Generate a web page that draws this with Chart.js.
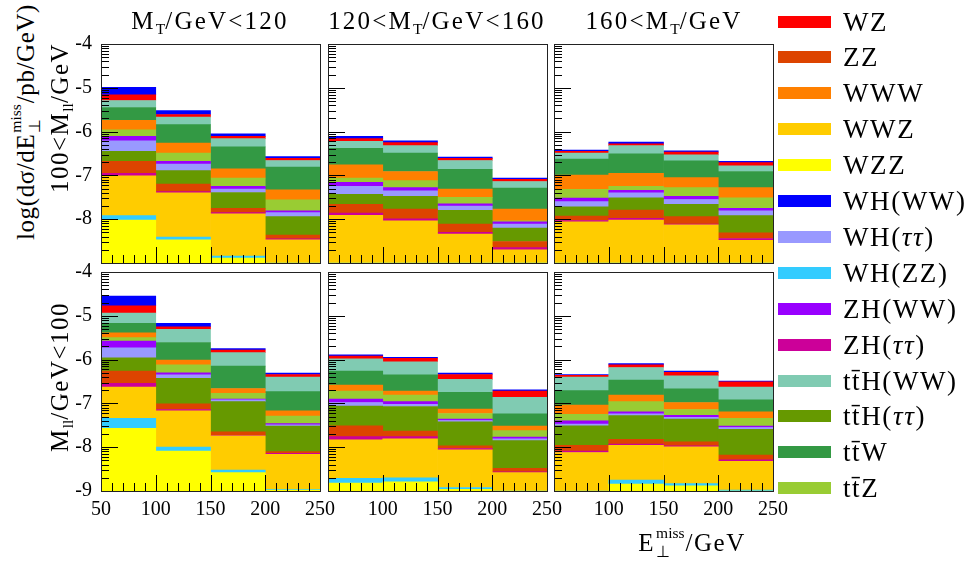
<!DOCTYPE html>
<html>
<head>
<meta charset="utf-8">
<script src="https://cdn.jsdelivr.net/npm/chart.js@4.4.1/dist/chart.umd.min.js"></script>
<style>
  body { margin: 0; background: #fff; font-family: "Liberation Serif", serif; }
  #page { position: relative; width: 975px; height: 563px; overflow: hidden; background: #fff; }
  canvas.panel { position: absolute; }
  .txt { position: absolute; white-space: nowrap; color: #000; line-height: 1; }
  .center { transform: translate(-50%, -50%); }
  .rot { transform: translate(-50%, -50%) rotate(-90deg); }
  .big { font-size: 25px; letter-spacing: 1.5px; }
  .title { font-size: 25px; letter-spacing: 2.2px; }
  .ytitle { font-size: 25px; letter-spacing: 0.6px; }
  sub.s { font-size: 0.62em; vertical-align: -0.3em; letter-spacing: 0; }
  .ss { display: inline-flex; flex-direction: column; vertical-align: 13px; font-size: 0.62em; line-height: 1.25; letter-spacing: 0; margin-left: 1px; margin-right: 1px; }
  .leg-sw { position: absolute; left: 778px; width: 53px; height: 12px; }
  .leg-tx { position: absolute; left: 843px; font-size: 27px; letter-spacing: 1.6px; line-height: 1; white-space: nowrap; transform: translateY(-50%); }
</style>
</head>
<body>
<div id="page"></div>
<script>
// bin edges / centres of the missing-ET histograms (GeV)
const binCenters = [75, 125, 175, 225];
const xTicks = [50, 100, 150, 200, 250];
const yMin = -9, yMax = -4;

// panel titles and row labels
const colTitles = ['M<sub class="s">T</sub>/GeV&lt;120', '120&lt;M<sub class="s">T</sub>/GeV&lt;160', '160&lt;M<sub class="s">T</sub>/GeV'];
const rowTitles = ['100&lt;M<sub class="s">ll</sub>/GeV', 'M<sub class="s">ll</sub>/GeV&lt;100'];

// log10 of the cumulative stack height at the top of each process
// panels: [top-left, top-mid, top-right, bottom-left, bottom-mid, bottom-right], 4 bins each
const wzz = [
  [-8.02, -8.47, -8.89, -9], [-9, -9, -9, -9], [-9, -9, -9, -9],
  [-7.57, -8.09, -8.58, -8.98], [-8.82, -8.79, -8.96, -9], [-9, -8.84, -8.88, -9]
];
const whZZ = [
  [-7.92, -8.41, -8.84, -9], [-9, -9, -9, -9], [-9, -9, -9, -9],
  [-7.34, -8.00, -8.52, -8.96], [-8.71, -8.70, -8.92, -9], [-9, -8.75, -8.83, -8.98]
];
const wwz = [
  [-7.01, -7.40, -7.88, -8.47], [-7.91, -8.04, -8.34, -8.70], [-8.06, -8.02, -8.13, -8.48],
  [-6.63, -7.17, -7.74, -8.16], [-7.83, -7.81, -8.06, -8.58], [-8.12, -7.96, -7.99, -8.32]
];
const zhTauTau = [
  [-6.95, -7.37, -7.85, -8.45], [-7.86, -7.99, -8.30, -8.65], [-8.03, -7.98, -8.11, -8.44],
  [-6.54, -7.14, -7.73, -8.14], [-7.76, -7.76, -8.03, -8.56], [-8.09, -7.93, -7.97, -8.29]
];
const zz = [
  [-6.68, -7.20, -7.75, -8.36], [-7.66, -7.77, -8.11, -8.51], [-7.93, -7.79, -7.94, -8.31],
  [-6.26, -7.01, -7.65, -8.10], [-7.51, -7.63, -7.97, -8.48], [-7.96, -7.82, -7.88, -8.18]
];
const tthTauTau = [
  [-6.45, -6.89, -7.39, -7.94], [-7.43, -7.48, -7.80, -8.20], [-7.72, -7.51, -7.66, -7.92],
  [-5.96, -6.43, -6.96, -7.52], [-7.06, -7.07, -7.42, -7.85], [-7.51, -7.28, -7.36, -7.59]
];
const whTauTau = [
  [-6.21, -6.74, -7.31, -7.85], [-7.25, -7.35, -7.70, -8.11], [-7.60, -7.40, -7.55, -7.81],
  [-5.73, -6.35, -6.92, -7.49], [-6.98, -7.02, -7.39, -7.81], [-7.47, -7.24, -7.32, -7.55]
];
const zhWW = [
  [-6.11, -6.68, -7.25, -7.81], [-7.16, -7.28, -7.65, -8.06], [-7.52, -7.34, -7.48, -7.75],
  [-5.58, -6.30, -6.90, -7.46], [-6.90, -6.96, -7.36, -7.77], [-7.40, -7.19, -7.27, -7.52]
];
const ttz = [
  [-5.96, -6.49, -7.06, -7.56], [-7.06, -7.12, -7.50, -8.04], [-7.32, -7.25, -7.28, -7.51],
  [-5.50, -6.12, -6.77, -7.29], [-6.72, -6.81, -7.23, -7.62], [-7.25, -6.96, -7.14, -7.34]
];
const www = [
  [-5.74, -6.26, -6.85, -7.33], [-6.76, -6.91, -7.31, -7.77], [-6.99, -6.95, -7.05, -7.28],
  [-5.39, -6.01, -6.66, -7.17], [-6.58, -6.72, -7.13, -7.52], [-7.04, -6.81, -6.98, -7.19]
];
const ttw = [
  [-5.45, -5.84, -6.35, -6.81], [-6.38, -6.49, -6.86, -7.29], [-6.63, -6.51, -6.67, -6.91],
  [-5.17, -5.61, -6.15, -6.73], [-6.26, -6.35, -6.75, -7.24], [-6.71, -6.47, -6.67, -6.92]
];
const tthWW = [
  [-5.29, -5.67, -6.16, -6.66], [-6.22, -6.32, -6.66, -7.14], [-6.49, -6.32, -6.53, -6.78],
  [-4.94, -5.31, -5.84, -6.40], [-5.98, -6.05, -6.45, -6.86], [-6.40, -6.18, -6.37, -6.63]
];
const wz = [
  [-5.16, -5.61, -6.11, -6.61], [-6.16, -6.25, -6.61, -7.09], [-6.45, -6.28, -6.47, -6.71],
  [-4.77, -5.25, -5.78, -6.34], [-5.92, -5.97, -6.34, -6.72], [-6.36, -6.12, -6.29, -6.51]
];
const whWW = [
  [-4.99, -5.52, -6.05, -6.57], [-6.11, -6.21, -6.58, -7.06], [-6.42, -6.24, -6.44, -6.68],
  [-4.55, -5.17, -5.75, -6.31], [-5.89, -5.95, -6.31, -6.69], [-6.34, -6.09, -6.26, -6.49]
];

// stacking order, bottom to top
const stackOrder = [
  ['WZZ', wzz], ['WH(ZZ)', whZZ], ['WWZ', wwz], ['ZH(ττ)', zhTauTau], ['ZZ', zz],
  ['ttH(ττ)', tthTauTau], ['WH(ττ)', whTauTau], ['ZH(WW)', zhWW], ['ttZ', ttz],
  ['WWW', www], ['ttW', ttw], ['ttH(WW)', tthWW], ['WZ', wz], ['WH(WW)', whWW]
];

// legend order, top to bottom
const legendOrder = ['WZ', 'ZZ', 'WWW', 'WWZ', 'WZZ', 'WH(WW)', 'WH(ττ)', 'WH(ZZ)', 'ZH(WW)', 'ZH(ττ)', 'ttH(WW)', 'ttH(ττ)', 'ttW', 'ttZ'];

const colors = {
  'WZ': '#ff0000', 'ZZ': '#dd4400', 'WWW': '#ff8000', 'WWZ': '#ffcc00', 'WZZ': '#ffff00',
  'WH(WW)': '#0000ff', 'WH(ττ)': '#9999ff', 'WH(ZZ)': '#33ccff', 'ZH(WW)': '#9900ff',
  'ZH(ττ)': '#cc0099', 'ttH(WW)': '#80cbb2', 'ttH(ττ)': '#669900', 'ttW': '#339944', 'ttZ': '#99cc33'
};

function prettyName(name) {
  return name.replace(/^tt/, 'tt&#772;').replace('ττ', '<i>ττ</i>');
}

const page = document.getElementById('page');

function addText(html, x, y, cls) {
  const d = document.createElement('div');
  d.className = 'txt ' + cls;
  d.style.left = x + 'px';
  d.style.top = y + 'px';
  d.innerHTML = html;
  page.appendChild(d);
}

// ROOT-like frame with inner ticks
const rootFrame = {
  id: 'rootFrame',
  afterDatasetsDraw(chart) {
    const { ctx, chartArea: a, scales: { x, y } } = chart;
    ctx.save();
    ctx.strokeStyle = '#000';
    ctx.lineWidth = 1;
    ctx.beginPath();
    for (let v = 50; v <= 250; v += 10) {
      const px = Math.round(x.getPixelForValue(v)) + 0.5;
      const len = v % 50 === 0 ? 16 : 8;
      ctx.moveTo(px, a.bottom);
      ctx.lineTo(px, a.bottom - len);
    }
    for (let d = yMin; d < yMax; d++) {
      for (let k = 1; k <= 9; k++) {
        const py = Math.round(y.getPixelForValue(d + Math.log10(k))) + 0.5;
        const len = k === 1 ? 17 : 8;
        ctx.moveTo(a.left, py);
        ctx.lineTo(a.left + len, py);
      }
    }
    ctx.stroke();
    ctx.strokeStyle = '#222';
    ctx.strokeRect(Math.round(a.left) + 0.5, Math.round(a.top) + 0.5, Math.round(a.right - a.left), Math.round(a.bottom - a.top));
    ctx.restore();
  }
};

const frameLefts = [101, 328, 554];
const frameTops = [44, 272];
const frameW = 219, frameH = 219;
const padL = 45, padT = 12, padR = 22, padB = 36;

for (let row = 0; row < 2; row++) {
  for (let col = 0; col < 3; col++) {
    const p = row * 3 + col;
    const cv = document.createElement('canvas');
    cv.className = 'panel';
    cv.width = frameW + padL + padR;
    cv.height = frameH + padT + padB;
    cv.style.left = (frameLefts[col] - padL) + 'px';
    cv.style.top = (frameTops[row] - padT) + 'px';
    cv.style.width = cv.width + 'px';
    cv.style.height = cv.height + 'px';
    page.appendChild(cv);

    const datasets = stackOrder.map(([name, arr], k) => ({
      label: name,
      data: binCenters.map((c, i) => ({ x: c, y: [k === 0 ? yMin : stackOrder[k - 1][1][p][i], arr[p][i]] })),
      backgroundColor: colors[name],
      borderWidth: 0,
      grouped: false,
      barPercentage: 1,
      categoryPercentage: 1
    }));

    new Chart(cv, {
      type: 'bar',
      data: { datasets },
      options: {
        responsive: false,
        animation: false,
        layout: { padding: { left: 0, top: padT, right: padR, bottom: 0 } },
        plugins: { legend: { display: false }, tooltip: { enabled: false } },
        scales: {
          x: {
            type: 'linear', min: 50, max: 250, offset: false,
            grid: { display: false, drawTicks: false, offset: false },
            border: { display: false },
            afterBuildTicks: (s) => { s.ticks = xTicks.map(v => ({ value: v })); },
            afterFit: (s) => { s.height = padB; s.paddingLeft = 0; s.paddingRight = 0; },
            ticks: {
              padding: 7, maxRotation: 0, autoSkip: false,
              color: '#000', font: { family: 'Liberation Serif', size: 20 },
              callback: (v) => (row === 1 && !(col > 0 && v === 50)) ? String(v) : ''
            }
          },
          y: {
            min: yMin, max: yMax,
            grid: { display: false, drawTicks: false },
            border: { display: false },
            ticks: {
              stepSize: 1, padding: 9,
              color: '#000', font: { family: 'Liberation Serif', size: 20 },
              callback: (v) => (col === 0 && !(row === 0 && v === yMin)) ? String(v) : ''
            },
            afterFit: (s) => { s.width = padL; s.paddingTop = 0; s.paddingBottom = 0; }
          }
        }
      },
      plugins: [rootFrame]
    });
  }
}

// titles
const colCenters = [210, 437, 664];
colTitles.forEach((t, i) => addText(t, colCenters[i], 22, 'center title'));
addText('log(dσ/dE<span class="ss"><span>miss</span><span>⊥</span></span>/pb/GeV)', 25, 122, 'rot ytitle');
addText(rowTitles[0], 61, 118, 'rot big');
addText(rowTitles[1], 61, 377, 'rot big');
addText('E<span class="ss"><span>miss</span><span>⊥</span></span>/GeV', 692, 542, 'center big');

// legend
legendOrder.forEach((name, i) => {
  const cy = 21.5 + i * 35.9;
  const sw = document.createElement('div');
  sw.className = 'leg-sw';
  sw.style.top = (cy - 6) + 'px';
  sw.style.background = colors[name];
  page.appendChild(sw);
  const tx = document.createElement('div');
  tx.className = 'leg-tx';
  tx.style.top = cy + 'px';
  tx.innerHTML = prettyName(name);
  page.appendChild(tx);
});
</script>
</body>
</html>
